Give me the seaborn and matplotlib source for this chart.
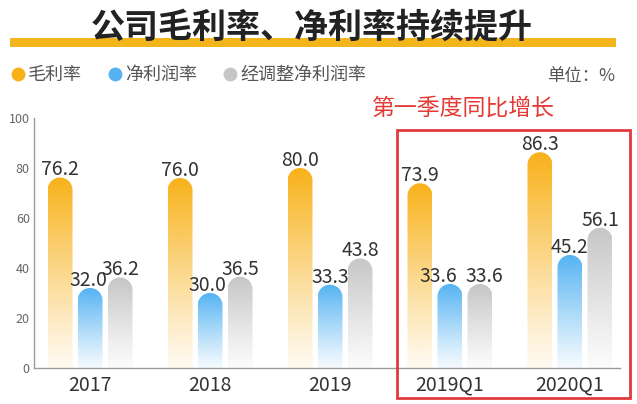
import numpy as np
import pandas as pd
import matplotlib
matplotlib.use("Agg")
import matplotlib.pyplot as plt
from matplotlib.patches import Polygon, Rectangle
from matplotlib.lines import Line2D
from matplotlib.colors import to_rgb
import seaborn as sns

# ---- data -------------------------------------------------------------
periods = ['2017', '2018', '2019', '2019Q1', '2020Q1']
series = ['毛利率', '净利润率', '经调整净利润率']
gross = [76.2, 76.0, 80.0, 73.9, 86.3]
net = [32.0, 30.0, 33.3, 33.6, 45.2]
adj_net = [36.2, 36.5, 43.8, 33.6, 56.1]
yticks = [0, 20, 40, 60, 80, 100]

title = '公司毛利率、净利率持续提升'
unit = '单位：%'
note = '第一季度同比增长'

colors = ['#F8B119', '#55B3F3', '#C6C6C6']

df = pd.DataFrame({
    'period': periods * 3,
    'series': [s for s in series for _ in periods],
    'value': gross + net + adj_net,
})

# label nudges (pixels) where neighbouring labels would collide
nudge = {(0, 1): -2, (1, 1): -3, (3, 1): -12, (3, 2): 4}

# ---- figure -----------------------------------------------------------
sns.set_theme(style='white')
plt.rcParams['font.family'] = ['Noto Sans CJK SC', 'DejaVu Sans']

W, H = 637, 404
fig = plt.figure(figsize=(W / 100, H / 100), dpi=100)
ax = fig.add_axes([34 / W, 36 / H, 586 / W, 250 / H])

sns.barplot(data=df, x='period', y='value', hue='series', order=periods,
            hue_order=series, palette=colors, width=0.75, gap=0.167,
            legend=False, ax=ax)

xlim = (-0.467, 4.417)
ylim = (0, 100)
ry = 12.5 / 2.5   # round top radius in data units (2.5 px per unit)

rgb_list = [np.array(to_rgb(c)) for c in colors]
for p in list(ax.patches):
    fc = np.array(p.get_facecolor()[:3])
    k = int(np.argmin([np.abs(fc - c).sum() for c in rgb_list]))
    x0, w, h = p.get_x(), p.get_width(), p.get_height()
    x1 = x0 + w
    xc = x0 + w / 2
    gi = int(round(xc))
    p.set_visible(False)

    # rounded top outline
    t = np.linspace(0, np.pi, 40)
    top = np.column_stack([xc - w / 2 * np.cos(t), h - ry + ry * np.sin(t)])
    verts = np.vstack([[x0, 0], top, [x1, 0]])
    clip = Polygon(verts, closed=True, transform=ax.transData)

    n = 256
    s = np.linspace(0, 1, n)[:, None]
    rgba = np.zeros((n, 1, 4))
    rgba[..., :3] = rgb_list[k]
    rgba[..., 3] = 0.06 + 0.94 * s ** 1.1
    im = ax.imshow(rgba, extent=(x0, x1, 0, h), origin='lower', aspect='auto',
                   interpolation='bilinear', zorder=2)
    im.set_clip_path(clip)

    dx = nudge.get((gi, k), 0) * 0.72
    ax.annotate(f'{h:.1f}', (xc, h), xytext=(dx, 1.5), textcoords='offset points',
                ha='center', va='baseline', fontsize=14, color='#333333', zorder=4)

ax.set_xlim(xlim)
ax.set_ylim(ylim)
ax.set_yticks(yticks)
ax.set_xlabel('')
ax.set_ylabel('')
sns.despine(ax=ax)
for sp in ['left', 'bottom']:
    ax.spines[sp].set_color('#9A9A9A')
    ax.spines[sp].set_linewidth(1)
ax.tick_params(axis='x', length=0, pad=5, labelsize=14, labelcolor='#333333')
ax.tick_params(axis='y', length=0, pad=3, labelsize=9, labelcolor='#666666')


def fx(px):
    return px / W


def fy(py):
    return 1 - py / H


# title with yellow underline band
fig.patches.append(Rectangle((fx(10), fy(47)), fx(606), 9 / H, transform=fig.transFigure,
                             facecolor='#F2B51C', edgecolor='none', zorder=0))
fig.text(fx(312), fy(27), title, ha='center', va='center', fontsize=24.5,
         fontweight='bold', color='#222222', zorder=3)

# legend
handles = [Line2D([], [], marker='o', linestyle='none', markersize=10,
                  markerfacecolor=c, markeredgecolor='none') for c in colors]
fig.legend(handles, series, ncol=3, loc='center left', bbox_to_anchor=(fx(4), fy(75)),
           frameon=False, fontsize=13, handlelength=0.7, handletextpad=0.2,
           columnspacing=1.5, labelcolor='#555555', borderaxespad=0)

fig.text(fx(615), fy(76), unit, ha='right', va='center', fontsize=12.5, color='#555555')

# highlighted quarter comparison
fig.text(fx(555), fy(108), note, ha='right', va='center', fontsize=16.5, color='#E53935')
fig.patches.append(Rectangle((fx(397), fy(398)), fx(233), 268 / H, transform=fig.transFigure,
                             facecolor='none', edgecolor='#E0393E', linewidth=2, zorder=5))

fig.savefig('out.png', dpi=100)
